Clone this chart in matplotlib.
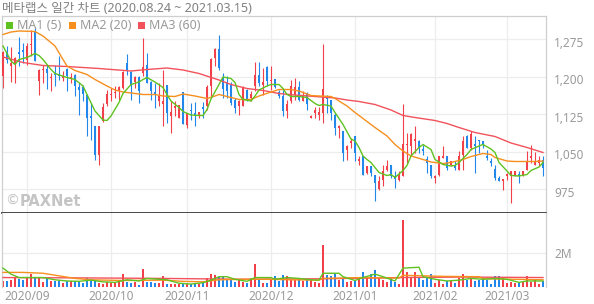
import matplotlib
matplotlib.use("Agg")
import matplotlib.pyplot as plt
import matplotlib.transforms as mtransforms
from matplotlib.patches import Rectangle
from matplotlib.ticker import FuncFormatter
import numpy as np

plt.rcParams['font.family'] = ['Noto Sans', 'Noto Sans CJK KR', 'DejaVu Sans']

# daily candles, 2020-08-24 .. 2021-03-15 (136 trading days)
opens = [1201, 1249, 1222, 1226, 1250, 1254, 1234, 1263, 1291, 1191,
         1213, 1216, 1197, 1206, 1204, 1198, 1216, 1197, 1204, 1179,
         1179, 1164, 1121, 1101, 1044, 1111, 1146, 1163, 1167, 1171,
         1178, 1228, 1209, 1189, 1199, 1208, 1224, 1189, 1169, 1151,
         1146, 1184, 1121, 1138, 1118, 1169, 1104, 1134, 1128, 1123,
         1140, 1141, 1181, 1238, 1256, 1199, 1190, 1184, 1154, 1141,
         1141, 1174, 1158, 1181, 1204, 1184, 1219, 1191, 1196, 1169,
         1161, 1131, 1151, 1164, 1179, 1151, 1168, 1118, 1128, 1124,
         1128, 1161, 1154, 1124, 1098, 1091, 1054, 1068, 1081, 1031,
         1041, 1008, 1021, 1004, 976, 994, 1013, 1024, 1001, 993,
         1001, 1064, 1061, 1072, 1071, 1055, 1036, 1024, 998, 1004,
         1038, 1041, 1024, 1022, 1013, 1044, 1081, 1058, 1066, 1074,
         1071, 1042, 1031, 1016, 998, 991, 1001, 1002, 1001, 1006,
         1001, 1014, 1038, 1024, 1028, 1034]
highs = [1251, 1262, 1260, 1240, 1280, 1268, 1268, 1294, 1300, 1216,
         1224, 1224, 1208, 1224, 1241, 1211, 1217, 1208, 1206, 1188,
         1184, 1166, 1148, 1101, 1102, 1148, 1174, 1178, 1181, 1181,
         1211, 1246, 1211, 1201, 1201, 1278, 1248, 1191, 1188, 1188,
         1214, 1184, 1151, 1151, 1144, 1169, 1128, 1148, 1149, 1129,
         1149, 1184, 1238, 1258, 1284, 1208, 1201, 1189, 1158, 1154,
         1181, 1176, 1171, 1229, 1229, 1218, 1221, 1221, 1196, 1174,
         1174, 1154, 1194, 1198, 1191, 1171, 1169, 1124, 1140, 1140,
         1266, 1164, 1154, 1128, 1104, 1091, 1064, 1078, 1081, 1041,
         1041, 1021, 1021, 1004, 1001, 1024, 1034, 1024, 1011, 1011,
         1146, 1088, 1088, 1101, 1074, 1064, 1041, 1024, 1004, 1041,
         1061, 1041, 1031, 1031, 1051, 1081, 1084, 1091, 1081, 1074,
         1071, 1054, 1038, 1024, 1001, 996, 1008, 1011, 1011, 1011,
         1011, 1051, 1064, 1049, 1041, 1041]
lows = [1177, 1227, 1190, 1188, 1221, 1228, 1224, 1241, 1231, 1163,
        1188, 1175, 1171, 1181, 1194, 1191, 1171, 1188, 1161, 1124,
        1151, 1081, 1074, 1033, 1024, 1110, 1141, 1151, 1158, 1154,
        1175, 1204, 1154, 1178, 1148, 1201, 1188, 1154, 1138, 1141,
        1101, 1108, 1088, 1121, 1118, 1106, 1098, 1114, 1101, 1118,
        1118, 1134, 1161, 1221, 1214, 1158, 1158, 1144, 1128, 1124,
        1141, 1151, 1151, 1171, 1181, 1164, 1181, 1174, 1178, 1158,
        1121, 1118, 1148, 1154, 1151, 1151, 1134, 1118, 1118, 1114,
        1108, 1128, 1114, 1084, 1078, 1031, 1034, 1058, 1031, 1024,
        1004, 1006, 1001, 951, 974, 981, 1011, 998, 978, 991,
        1001, 1028, 1044, 1048, 1048, 1044, 1008, 998, 988, 1002,
        1038, 1014, 1021, 1014, 1013, 1014, 1058, 1054, 1008, 1048,
        1058, 1034, 1021, 994, 991, 974, 994, 948, 1001, 988,
        1001, 1014, 1028, 1024, 1021, 1002]
closes = [1249, 1234, 1227, 1238, 1246, 1250, 1262, 1266, 1231, 1214,
          1216, 1208, 1199, 1203, 1201, 1202, 1201, 1199, 1181, 1174,
          1166, 1118, 1118, 1044, 1101, 1140, 1166, 1165, 1170, 1180,
          1209, 1211, 1184, 1199, 1171, 1220, 1188, 1171, 1164, 1161,
          1151, 1128, 1129, 1141, 1144, 1106, 1128, 1131, 1123, 1129,
          1136, 1179, 1236, 1256, 1218, 1176, 1171, 1148, 1138, 1151,
          1179, 1154, 1166, 1204, 1188, 1189, 1191, 1194, 1180, 1161,
          1131, 1146, 1181, 1179, 1154, 1164, 1146, 1122, 1134, 1129,
          1176, 1156, 1128, 1098, 1102, 1048, 1062, 1071, 1048, 1036,
          1004, 1021, 1008, 988, 991, 1011, 1021, 1001, 996, 1004,
          1066, 1066, 1086, 1075, 1058, 1052, 1028, 1001, 1001, 1041,
          1041, 1018, 1031, 1018, 1042, 1071, 1058, 1086, 1062, 1071,
          1064, 1038, 1028, 998, 991, 996, 1006, 1011, 1011, 1001,
          1011, 1031, 1041, 1031, 1034, 1018]
# volume in millions of shares
volumes = [0.35, 0.37, 0.40, 0.51, 0.45, 0.43, 0.50, 0.76, 0.50, 0.50,
           0.30, 0.45, 0.37, 0.37, 0.37, 0.25, 0.35, 0.35, 0.35, 0.30,
           0.25, 0.55, 0.35, 0.35, 0.25, 0.20, 0.30, 0.25, 0.30, 0.35,
           0.76, 0.30, 0.25, 0.30, 0.12, 1.03, 0.30, 0.30, 0.25, 0.25,
           0.64, 0.20, 0.20, 0.15, 0.15, 0.15, 0.20, 0.20, 0.25, 0.20,
           0.30, 0.50, 0.78, 0.70, 0.60, 0.64, 0.39, 0.39, 0.30, 0.39,
           0.30, 0.25, 0.54, 1.32, 0.45, 0.25, 0.25, 0.45, 0.64, 0.35,
           0.68, 0.64, 0.42, 0.42, 0.45, 0.37, 0.40, 0.45, 0.32, 0.25,
           2.45, 0.69, 0.62, 0.74, 0.40, 0.55, 0.28, 0.33, 0.42, 0.45,
           0.88, 0.52, 0.77, 1.00, 0.50, 0.40, 0.30, 0.50, 0.30, 0.17,
           3.90, 0.90, 0.50, 0.90, 0.50, 0.40, 0.50, 0.76, 0.25, 0.40,
           0.20, 0.35, 0.35, 0.25, 0.50, 0.76, 0.40, 0.50, 0.35, 0.40,
           0.50, 0.40, 0.20, 0.64, 0.64, 0.50, 0.25, 0.30, 0.25, 0.25,
           0.30, 0.64, 0.30, 0.40, 0.17, 0.35]

# moving averages (day index, value)
ma5_idx = [0, 2, 3, 4, 6, 8, 9, 10, 12, 13, 16, 18, 20, 21, 23, 25, 26, 27, 29, 30,
           32, 34, 35, 36, 38, 40, 41, 42, 44, 45, 47, 49, 50, 51, 52, 54, 55, 57, 58, 59,
           60, 62, 63, 64, 66, 67, 69, 70, 71, 72, 74, 76, 78, 79, 80, 82, 83, 85, 87, 88,
           89, 90, 91, 92, 94, 96, 97, 98, 100, 101, 102, 104, 105, 107, 108, 110, 112, 113, 114, 116,
           117, 119, 120, 122, 123, 124, 126, 127, 129, 131, 132, 134, 135]
ma5_val = [1261, 1231, 1224, 1234, 1238, 1246, 1242, 1234, 1214, 1206, 1198, 1194, 1181, 1164, 1131, 1113, 1112, 1121, 1148, 1166,
           1184, 1189, 1194, 1198, 1189, 1178, 1164, 1151, 1138, 1130, 1123, 1122, 1122, 1134, 1155, 1184, 1199, 1196, 1188, 1164,
           1154, 1151, 1161, 1173, 1181, 1184, 1184, 1176, 1164, 1160, 1160, 1158, 1146, 1142, 1144, 1141, 1128, 1104, 1075, 1071,
           1058, 1041, 1034, 1028, 1008, 1002, 1004, 998, 1012, 1022, 1041, 1058, 1064, 1054, 1034, 1024, 1021, 1022, 1028, 1044,
           1054, 1061, 1064, 1055, 1048, 1028, 1011, 1002, 1001, 1004, 1012, 1019, 1028]
ma20_idx = [0, 2, 4, 8, 10, 13, 15, 16, 18, 21, 23, 26, 28, 30, 33, 35, 38, 40, 43, 45,
            48, 51, 53, 54, 57, 59, 62, 64, 67, 69, 72, 74, 77, 79, 82, 83, 86, 88, 91, 93,
            96, 98, 100, 102, 105, 107, 110, 112, 115, 117, 120, 122, 123, 126, 128, 131, 133, 135]
ma20_val = [1284, 1289, 1291, 1290, 1281, 1261, 1234, 1221, 1212, 1204, 1194, 1181, 1173, 1169, 1166, 1164, 1164, 1161, 1160, 1165,
            1161, 1156, 1161, 1164, 1158, 1154, 1154, 1161, 1169, 1174, 1174, 1171, 1162, 1161, 1160, 1156, 1141, 1128, 1110, 1098,
            1081, 1064, 1051, 1041, 1034, 1029, 1026, 1028, 1034, 1040, 1046, 1044, 1038, 1031, 1030, 1030, 1030, 1031]
ma60_idx = [0, 5, 10, 16, 24, 32, 36, 41, 45, 49, 54, 57, 61, 65, 69, 73, 78, 83, 86, 89,
            93, 97, 100, 103, 108, 111, 114, 118, 123, 127, 131, 135]
ma60_val = [1239, 1228, 1222, 1220, 1216, 1211, 1214, 1217, 1213, 1206, 1193, 1184, 1176, 1172, 1166, 1163, 1160, 1157, 1153, 1150,
            1144, 1133, 1122, 1118, 1112, 1106, 1098, 1088, 1080, 1067, 1058, 1048]

vma5_idx = [0, 2, 4, 7, 10, 13, 16, 19, 22, 25, 28, 31, 34, 36, 39, 41, 44, 47, 50, 52,
            54, 56, 58, 61, 63, 67, 68, 71, 74, 77, 79, 80, 84, 85, 88, 90, 93, 95, 98, 100,
            104, 105, 108, 111, 114, 117, 120, 123, 126, 129, 131, 135]
vma5_val = [1.10, 0.75, 0.55, 0.55, 0.55, 0.42, 0.35, 0.33, 0.40, 0.30, 0.27, 0.42, 0.35, 0.50, 0.45, 0.42, 0.22, 0.17, 0.25, 0.40,
            0.60, 0.60, 0.45, 0.33, 0.55, 0.55, 0.45, 0.55, 0.50, 0.42, 0.40, 0.80, 0.80, 0.60, 0.38, 0.55, 0.75, 0.60, 0.35, 1.10,
            1.15, 0.60, 0.45, 0.35, 0.40, 0.50, 0.45, 0.50, 0.45, 0.27, 0.35, 0.35]
vma20_idx = [0, 5, 10, 14, 18, 22, 30, 40, 45, 50, 54, 60, 66, 72, 79, 80, 90, 99, 100, 110,
             119, 120, 128, 135]
vma20_val = [0.85, 0.85, 0.80, 0.65, 0.50, 0.42, 0.38, 0.40, 0.33, 0.30, 0.42, 0.45, 0.45, 0.42, 0.40, 0.50, 0.55, 0.52, 0.68, 0.62,
             0.60, 0.48, 0.45, 0.42]
vma60_idx = [0, 20, 40, 60, 80, 100, 115, 135]
vma60_val = [0.55, 0.53, 0.50, 0.45, 0.48, 0.55, 0.58, 0.55]

month_idx = [6, 27, 46, 67, 88, 108, 126]
month_labels = ['2020/09', '2020/10', '2020/11', '2020/12', '2021/01', '2021/02', '2021/03']
price_ticks = [975, 1050, 1125, 1200, 1275]

UP = '#f2404b'
DOWN = '#2187ea'
MA_COLORS = ['#5fc220', '#f78f1f', '#f2525c']
GRID = '#ededed'
TXT = '#9a9a9a'

W, H = 594, 304


def box(x0, y0, x1, y1):
    return [x0 / W, 1 - y1 / H, (x1 - x0) / W, (y1 - y0) / H]


fig = plt.figure(figsize=(W / 100, H / 100), dpi=100)
ax = fig.add_axes(box(2, 16, 546, 213))
axv = fig.add_axes(box(2, 213, 546, 287), sharex=ax)

o = np.array(opens, float)
h = np.array(highs, float)
l = np.array(lows, float)
c = np.array(closes, float)
days = np.arange(len(c))
cols = np.where(c >= o, UP, DOWN)

# candles
ax.vlines(days, l, h, colors=cols, lw=0.8, zorder=2)
ax.bar(days, np.maximum(np.abs(c - o), 1.8), bottom=np.minimum(o, c),
       width=0.72, color=cols, linewidth=0, zorder=3)
ax.plot(ma60_idx, ma60_val, color=MA_COLORS[2], lw=1.0, zorder=4)
ax.plot(ma20_idx, ma20_val, color=MA_COLORS[1], lw=1.0, zorder=4)
ax.plot(ma5_idx, ma5_val, color=MA_COLORS[0], lw=1.0, zorder=5)

ax.set_xlim(-0.25, 135.75)
ax.set_ylim(927, 1321)
ax.set_yticks(price_ticks)
ax.yaxis.set_major_formatter(FuncFormatter(lambda v, p: f'{v:,.0f}'))
ax.yaxis.tick_right()
ax.tick_params(axis='y', length=0, pad=6, labelsize=8.5, labelcolor=TXT)
ax.set_xticks(month_idx)
ax.tick_params(axis='x', length=0, labelbottom=False)
ax.grid(True, color=GRID, lw=0.9)
ax.set_axisbelow(True)
for s in ['top', 'left', 'right']:
    ax.spines[s].set_color('#cfcfcf')
    ax.spines[s].set_linewidth(0.9)
ax.spines['bottom'].set_color('#3a3a3a')
ax.spines['bottom'].set_linewidth(1.3)
ax.spines['bottom'].set_zorder(6)

off = mtransforms.ScaledTranslation(0, -2 / 72, fig.dpi_scale_trans)
for lbl in ax.get_yticklabels():
    lbl.set_transform(lbl.get_transform() + off)

# volume
axv.bar(days, volumes, width=0.72, color=cols, linewidth=0, zorder=2)
axv.plot(vma60_idx, vma60_val, color=MA_COLORS[2], lw=1.0, zorder=3)
axv.plot(vma20_idx, vma20_val, color=MA_COLORS[1], lw=1.0, zorder=3)
axv.plot(vma5_idx, vma5_val, color=MA_COLORS[0], lw=1.0, zorder=4)
axv.set_ylim(0, 4.31)
axv.set_yticks([2])
axv.set_yticklabels(['2M'])
axv.yaxis.tick_right()
axv.tick_params(axis='y', length=0, pad=6, labelsize=8.5, labelcolor=TXT)
axv.set_xticks(month_idx)
axv.set_xticklabels(month_labels)
axv.tick_params(axis='x', length=0, pad=2, labelsize=8.5, labelcolor=TXT)
axv.grid(True, color=GRID, lw=0.9)
axv.set_axisbelow(True)
axv.spines['top'].set_visible(False)
axv.spines['bottom'].set_visible(False)
for s in ['left', 'right']:
    axv.spines[s].set_color('#cfcfcf')
    axv.spines[s].set_linewidth(0.9)

# title, legend, watermark
fig.text(2 / W, 1 - 8 / H, '메타랩스 일간 차트 (2020.08.24 ~ 2021.03.15)',
         fontsize=9, color='#808080', va='center', ha='left')
legend_names = ['MA1 (5)', 'MA2 (20)', 'MA3 (60)']
legend_x = [6, 69, 138]
for name, col, x in zip(legend_names, MA_COLORS, legend_x):
    fig.add_artist(Rectangle((x / W, 1 - 29 / H), 7 / W, 7 / H,
                             transform=fig.transFigure, color=col, lw=0))
    fig.text((x + 11) / W, 1 - 25.5 / H, name, fontsize=9, color=TXT,
             va='center', ha='left')
fig.text(5 / W, 1 - 201 / H, '©', fontsize=10, color='#c4c4c4',
         va='center', ha='left', family='DejaVu Sans')
fig.text(19.5 / W, 1 - 201 / H, 'PAXNet', fontsize=10.5, fontweight='bold',
         color='#c4c4c4', va='center', ha='left', family='DejaVu Sans')

fig.savefig('out.png', dpi=100)
